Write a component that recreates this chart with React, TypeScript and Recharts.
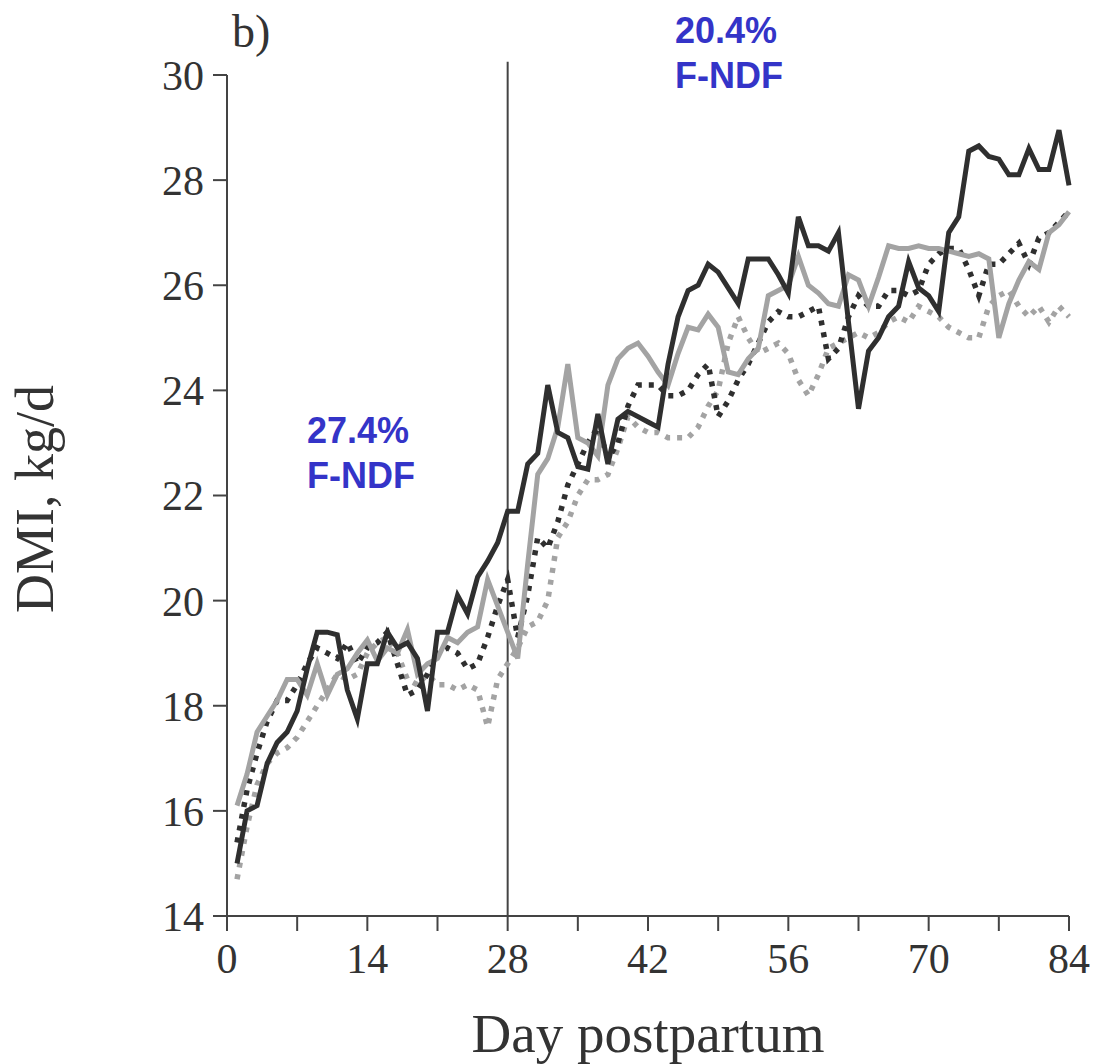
import React from "react";
import {
  LineChart,
  Line,
  XAxis,
  YAxis,
  ReferenceLine,
  Label,
} from "recharts";

// days postpartum
const days = [
  1, 2, 3, 4, 5, 6, 7, 8, 9, 10, 11, 12, 13, 14, 15, 16, 17, 18, 19, 20, 21,
  22, 23, 24, 25, 26, 27, 28, 29, 30, 31, 32, 33, 34, 35, 36, 37, 38, 39, 40,
  41, 42, 43, 44, 45, 46, 47, 48, 49, 50, 51, 52, 53, 54, 55, 56, 57, 58, 59,
  60, 61, 62, 63, 64, 65, 66, 67, 68, 69, 70, 71, 72, 73, 74, 75, 76, 77, 78,
  79, 80, 81, 82, 83, 84,
];

const solidDark = [
  15.0, 16.0, 16.1, 16.9, 17.3, 17.5, 17.9, 18.7, 19.4, 19.4, 19.35, 18.3,
  17.75, 18.8, 18.8, 19.4, 19.1, 19.2, 18.9, 17.9, 19.4, 19.4, 20.1, 19.75,
  20.45, 20.75, 21.1, 21.7, 21.7, 22.6, 22.8, 24.1, 23.2, 23.1, 22.55, 22.5,
  23.55, 22.6, 23.45, 23.6, 23.5, 23.4, 23.3, 24.5, 25.4, 25.9, 26.0, 26.4,
  26.25, 25.95, 25.65, 26.5, 26.5, 26.5, 26.2, 25.85, 27.3, 26.75, 26.75,
  26.65, 27.0, 25.3, 23.65, 24.75, 25.0, 25.4, 25.6, 26.45, 25.95, 25.8, 25.5,
  27.0, 27.3, 28.55, 28.65, 28.45, 28.4, 28.1, 28.1, 28.6, 28.2, 28.2, 28.95,
  27.9,
];

const solidGray = [
  16.1, 16.7, 17.5, 17.8, 18.1, 18.5, 18.5, 18.2, 18.8, 18.2, 18.6, 18.7, 19.0,
  19.25, 18.85, 19.1, 19.0, 19.45, 18.6, 18.8, 18.9, 19.3, 19.2, 19.4, 19.5,
  20.4, 19.9, 19.4, 18.9, 20.7, 22.4, 22.7, 23.3, 24.5, 23.1, 23.0, 22.75,
  24.1, 24.6, 24.8, 24.9, 24.65, 24.35, 24.1, 24.7, 25.2, 25.15, 25.45, 25.2,
  24.35, 24.3, 24.6, 24.8, 25.8, 25.9, 26.0, 26.55, 26.0, 25.85, 25.65, 25.6,
  26.2, 26.1, 25.6, 26.15, 26.75, 26.7, 26.7, 26.75, 26.7, 26.7, 26.65, 26.6,
  26.55, 26.6, 26.5, 25.0, 25.65, 26.1, 26.45, 26.3, 27.0, 27.15, 27.4,
];

const dottedDark = [
  15.4, 16.4, 17.1, 17.7, 18.1, 18.1, 18.4, 18.8, 19.1, 19.0, 18.9, 19.2, 18.8,
  19.1, 19.2, 19.4, 18.8, 18.2, 18.3, 18.6, 19.0, 19.1, 19.0, 18.7, 18.8, 19.3,
  19.9, 20.4, 19.3, 20.1, 21.2, 21.0, 21.5, 22.2, 22.6, 23.0, 23.3, 22.7, 23.0,
  23.7, 24.1, 24.1, 24.1, 23.9, 23.9, 24.0, 24.3, 24.5, 23.5, 23.8, 24.2, 24.5,
  24.9, 25.3, 25.5, 25.4, 25.4, 25.5, 25.6, 24.6, 24.8, 25.4, 25.8, 25.6, 25.6,
  25.9, 25.9, 25.8, 25.9, 26.4, 26.6, 26.7, 26.7, 26.3, 25.8, 26.4, 26.4, 26.6,
  26.8, 26.4, 26.9, 27.0, 27.2, 27.4,
];

const dottedGray = [
  14.7, 15.7, 16.5, 16.9, 17.1, 17.2, 17.4, 17.7, 18.0, 18.3, 18.6, 18.5, 18.6,
  19.0, 19.2, 19.3, 19.0, 18.5, 18.4, 18.6, 18.4, 18.4, 18.3, 18.4, 18.3, 17.6,
  18.5, 18.8, 19.1, 19.5, 19.6, 20.0, 21.2, 21.5, 22.0, 22.3, 22.3, 22.4, 22.9,
  23.5, 23.3, 23.2, 23.2, 23.1, 23.1, 23.1, 23.3, 23.7, 24.0, 24.9, 25.4, 25.0,
  24.7, 24.8, 24.9, 24.7, 24.2, 23.9, 24.3, 24.8, 24.9, 25.0, 25.1, 25.0, 25.1,
  25.3, 25.4, 25.3, 25.6, 25.5, 25.4, 25.2, 25.1, 25.0, 25.0, 25.6, 25.8, 25.9,
  25.6, 25.4, 25.6, 25.3, 25.6, 25.4,
];

const xTicks = [0, 7, 14, 21, 28, 35, 42, 49, 56, 63, 70, 77, 84];
const yTicks = [14, 16, 18, 20, 22, 24, 26, 28, 30];

const data = days.map((d, i) => ({
  day: d,
  solidDark: solidDark[i],
  solidGray: solidGray[i],
  dottedDark: dottedDark[i],
  dottedGray: dottedGray[i],
}));

const serif = "'Liberation Serif', 'Times New Roman', serif";
const sans = "'Liberation Sans', Arial, sans-serif";
const blue = "#3434c8";
const dark = "#2f2f2f";
const gray = "#a3a3a3";

const App = () => {
  return (
    <div style={{ position: "relative", width: 1091, height: 1056 }}>
      <LineChart
        width={1091}
        height={1056}
        data={data}
        margin={{ top: 67, right: 30, left: 0, bottom: 0 }}
      >
        <XAxis
          type="number"
          dataKey="day"
          domain={[0, 84]}
          ticks={xTicks}
          tickFormatter={(v: number) => (v % 14 === 0 ? String(v) : "")}
          height={148}
          tickSize={15}
          tickMargin={12}
          stroke="#444"
          strokeWidth={2}
          tick={{ fontFamily: serif, fontSize: 42, fill: "#333" }}
        >
          <Label
            value="Day postpartum"
            position="insideBottom"
            offset={12}
            style={{ fontFamily: serif, fontSize: 55, fill: "#333" }}
          />
        </XAxis>
        <YAxis
          type="number"
          domain={[14, 30]}
          ticks={yTicks}
          width={219}
          tickSize={14}
          tickMargin={9}
          stroke="#444"
          strokeWidth={2}
          tick={{ fontFamily: serif, fontSize: 42, fill: "#333" }}
        />
        <ReferenceLine
          segment={[
            { x: 28, y: 30.25 },
            { x: 28, y: 14 },
          ]}
          stroke="#444"
          strokeWidth={2}
          ifOverflow="visible"
        />
        <Line
          type="linear"
          dataKey="dottedGray"
          stroke={gray}
          strokeWidth={5.5}
          strokeDasharray="5 7"
          dot={false}
          isAnimationActive={false}
        />
        <Line
          type="linear"
          dataKey="dottedDark"
          stroke={dark}
          strokeWidth={5.5}
          strokeDasharray="5 7"
          dot={false}
          isAnimationActive={false}
        />
        <Line
          type="linear"
          dataKey="solidGray"
          stroke={gray}
          strokeWidth={5}
          dot={false}
          isAnimationActive={false}
        />
        <Line
          type="linear"
          dataKey="solidDark"
          stroke={dark}
          strokeWidth={5}
          dot={false}
          isAnimationActive={false}
        />
      </LineChart>
      {/* page-coordinate overlay for the free texts */}
      <svg
        width={1099}
        height={1064}
        style={{
          position: "absolute",
          left: -8,
          top: -8,
          pointerEvents: "none",
          overflow: "visible",
        }}
      >
        <text x={232} y={47} fontFamily={serif} fontSize={46} fill="#333">
          b)
        </text>
        <text
          x={53}
          y={499}
          transform="rotate(-90, 53, 499)"
          textAnchor="middle"
          fontFamily={serif}
          fontSize={54}
          fill="#333"
        >
          DMI, kg/d
        </text>
        <g fontFamily={sans} fontWeight="bold" fontSize={36} fill={blue}>
          <text x={307} y={443}>27.4%</text>
          <text x={307} y={488}>F-NDF</text>
          <text x={675} y={43}>20.4%</text>
          <text x={675} y={88}>F-NDF</text>
        </g>
      </svg>
    </div>
  );
};

export default App;
